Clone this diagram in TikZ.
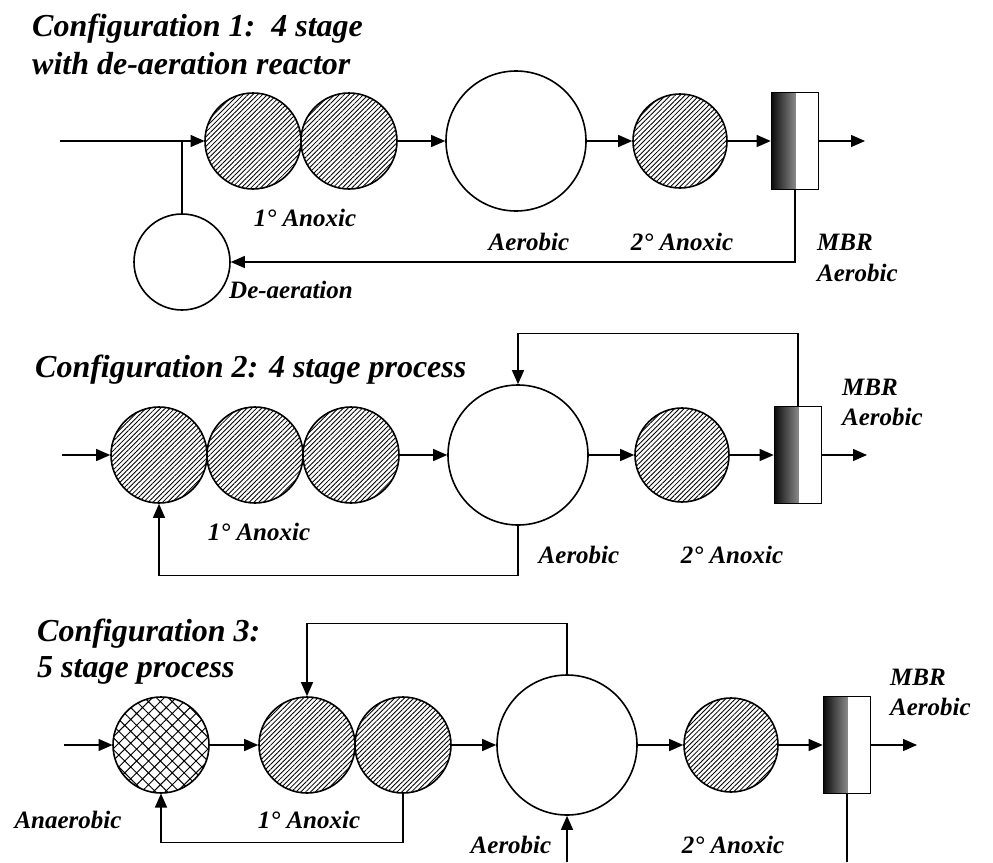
\documentclass[tikz,border=0pt]{standalone}
\usepackage{fontspec}
\setmainfont{Liberation Serif}
\usetikzlibrary{arrows.meta,patterns.meta}

\begin{document}
\begin{tikzpicture}[x=1pt,y=-1pt,
		flow/.style={line width=1.3pt,-{Triangle[length=14pt,width=12pt]}},
		pipe/.style={line width=1.3pt},
		tank/.style={draw,circle,line width=1.6pt,inner sep=0pt},
		anox/.style={tank,minimum size=96pt,pattern={Lines[angle=45,distance=3.4pt,line width=0.85pt]}},
		anae/.style={tank,minimum size=96pt,pattern={Hatch[angle=45,distance=8.4pt,line width=1pt]}},
		aero/.style={tank,minimum size=140pt},
		mbr/.style={draw,rectangle,line width=1.6pt,inner sep=0pt,minimum width=47pt,minimum height=97pt,
			path picture={\shade[left color=black!95,right color=white] (path picture bounding box.north west) rectangle ([xshift=24pt]path picture bounding box.south west);}},
		lbl/.style={font=\fontsize{25}{28}\selectfont\bfseries\itshape,inner sep=0pt},
		ttl/.style={font=\fontsize{32}{38}\selectfont\bfseries\itshape,inner sep=0pt,anchor=base west}]
		\useasboundingbox (0,0) rectangle (993,862);

		\node[ttl] (t11) at (32,36) {Configuration 1:\ \ 4 stage};
		\node[ttl] (t12) at (32,74) {with de-aeration reactor};
		\coordinate (in1) at (60,141);
		\coordinate (j1) at (182,141);
		\coordinate (out1) at (865,141);
		\node[anox] (a11) at (253,141) {};
		\node[anox] (a12) at (349,141) {};
		\node[aero] (ae1) at (516,141) {};
		\node[anox,minimum size=94pt] (b1) at (680,141) {};
		\node[mbr] (m1) at (795,141) {};
		\node[tank,minimum size=96pt] (d1) at (182,262) {};
		\draw[flow] (in1) -- (a11);
		\draw[pipe] (j1) -- (d1);
		\draw[flow] (a12) -- (ae1);
		\draw[flow] (ae1) -- (b1);
		\draw[flow] (b1) -- (m1);
		\draw[flow] (m1) -- (out1);
		\draw[flow] (m1.south) |- (d1.east);
		\node[lbl] at (305,218) {1° Anoxic};
		\node[lbl] at (529,242) {Aerobic};
		\node[lbl] at (682,242) {2° Anoxic};
		\node[lbl,anchor=west] at (817,242) {MBR};
		\node[lbl,anchor=west] at (817,273) {Aerobic};
		\node[lbl] at (291,290) {De-aeration};

		\node[ttl] (t2) at (35,377) {Configuration 2: 4 stage process};
		\coordinate (in2) at (62,455);
		\coordinate (out2) at (867,455);
		\node[anox] (a21) at (159,455) {};
		\node[anox] (a22) at (255,455) {};
		\node[anox] (a23) at (351,455) {};
		\node[aero] (ae2) at (518,455) {};
		\node[anox,minimum size=94pt] (b2) at (682,455) {};
		\node[mbr] (m2) at (798,455) {};
		\draw[flow] (in2) -- (a21);
		\draw[flow] (a23) -- (ae2);
		\draw[flow] (ae2) -- (b2);
		\draw[flow] (b2) -- (m2);
		\draw[flow] (m2) -- (out2);
		\draw[flow] (m2.north) -- ++(0,-72) -| (ae2.north);
		\draw[flow] (ae2.south) -- ++(0,50) -| (a21.south);
		\node[lbl] at (259,532) {1° Anoxic};
		\node[lbl] at (579,555) {Aerobic};
		\node[lbl] at (732,555) {2° Anoxic};
		\node[lbl,anchor=west] at (842,387) {MBR};
		\node[lbl,anchor=west] at (842,417) {Aerobic};

		\node[ttl] (t31) at (37,641) {Configuration 3:};
		\node[ttl] (t32) at (37,677) {5 stage process};
		\coordinate (in3) at (64,745);
		\coordinate (out3) at (917,745);
		\node[anae] (an3) at (161,745) {};
		\node[anox] (a31) at (307,745) {};
		\node[anox] (a32) at (403,745) {};
		\node[aero] (ae3) at (567,745) {};
		\node[anox,minimum size=94pt] (b3) at (731,745) {};
		\node[mbr] (m3) at (847,745) {};
		\coordinate (e3) at (847,862);
		\coordinate (f3) at (567,862);
		\draw[flow] (in3) -- (an3);
		\draw[flow] (an3) -- (a31);
		\draw[flow] (a32) -- (ae3);
		\draw[flow] (ae3) -- (b3);
		\draw[flow] (b3) -- (m3);
		\draw[flow] (m3) -- (out3);
		\draw[flow] (ae3.north) -- ++(0,-51) -| (a31.north);
		\draw[flow] (a32.south) -- ++(0,49) -| (an3.south);
		\draw[pipe] (m3.south) -- (e3);
		\draw[flow] (f3) -- (ae3);
		\node[lbl] at (68,820) {Anaerobic};
		\node[lbl] at (309,820) {1° Anoxic};
		\node[lbl] at (511,845) {Aerobic};
		\node[lbl] at (733,845) {2° Anoxic};
		\node[lbl,anchor=west] at (890,677) {MBR};
		\node[lbl,anchor=west] at (890,707) {Aerobic};
	\end{tikzpicture}
\end{document}
